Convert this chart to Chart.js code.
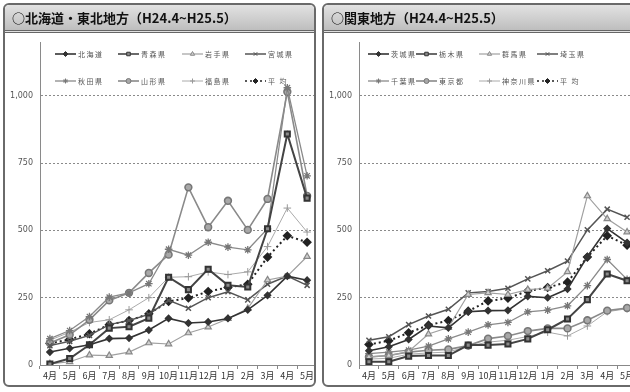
<!DOCTYPE html>
<html>
<head>
<meta charset="utf-8">
<script src="https://cdn.jsdelivr.net/npm/chart.js@4/dist/chart.umd.min.js"></script>
<style>
  html, body { margin: 0; padding: 0; background: #fff; overflow: hidden; width: 630px; height: 392px; }
  .panel { position: absolute; top: 3px; height: 380px; border: 2px solid #6a6a6a; border-radius: 6px; overflow: hidden; background: #fff; }
  .hdr { position: absolute; left: 0; top: 0; right: 0; height: 25px; border-bottom: 3px double #666; border-radius: 4px 4px 0 0;
         background: linear-gradient(#e2e2e2, #bebebe); font: bold 13px "Noto Sans CJK JP", sans-serif; line-height: 25px;
         padding-left: 7px; color: #111; z-index: 2; }
  canvas { position: absolute; left: 0; top: 0; }
</style>
</head>
<body>
<div class="panel" style="left:3px; width:309px;">
  <div class="hdr">○北海道・東北地方（H24.4~H25.5）</div>
  <canvas id="c1" width="322" height="380"></canvas>
</div>
<div class="panel" style="left:322px; width:330px;">
  <div class="hdr">○関東地方（H24.4~H25.5）</div>
  <canvas id="c2" width="330" height="380"></canvas>
</div>
<script>
// months H24.4 - H25.5
const months = ['4月','5月','6月','7月','8月','9月','10月','11月','12月','1月','2月','3月','4月','5月'];

// 北海道・東北
const tohokuNames = ['北海道','青森県','岩手県','宮城県','秋田県','山形県','福島県','平 均'];
const hokkaido  = [48, 62, 75, 98, 100, 130, 173, 156, 160, 173, 205, 259, 330, 315];
const aomori    = [4, 24, 75, 137, 142, 174, 326, 280, 356, 296, 290, 506, 858, 620];
const iwate     = [4, 12, 37, 35, 48, 82, 78, 119, 141, 172, 210, 316, 330, 403];
const miyagi    = [72, 88, 110, 150, 165, 188, 240, 211, 250, 272, 242, 300, 330, 296];
const akita     = [98, 128, 180, 252, 268, 302, 430, 408, 456, 438, 428, 506, 1030, 703];
const yamagata  = [82, 112, 168, 240, 268, 342, 410, 660, 512, 610, 502, 617, 1015, 628];
const fukushima = [92, 122, 158, 168, 205, 250, 326, 328, 346, 336, 346, 440, 583, 494];
const tohokuAvg = [80, 95, 116, 150, 165, 190, 236, 249, 273, 288, 300, 401, 480, 456];

// 関東
const kantoNames = ['茨城県','栃木県','群馬県','埼玉県','千葉県','東京都','神奈川県','平 均'];
const ibaraki   = [53, 68, 95, 145, 138, 198, 202, 203, 255, 250, 282, 403, 507, 455];
const tochigi   = [12, 12, 33, 35, 35, 74, 74, 78, 97, 131, 171, 243, 338, 313];
const gunma     = [30, 35, 50, 115, 139, 262, 268, 262, 280, 285, 346, 628, 543, 494];
const saitama   = [92, 105, 150, 182, 207, 268, 273, 285, 320, 350, 386, 502, 579, 549];
const chiba     = [42, 48, 55, 70, 97, 122, 149, 158, 197, 204, 220, 295, 392, 318];
const tokyo     = [30, 35, 48, 55, 58, 72, 98, 108, 126, 136, 136, 166, 202, 212];
const kanagawa  = [22, 25, 40, 45, 48, 70, 85, 92, 106, 122, 108, 145, 198, 209];
const kantoAvg  = [76, 90, 120, 148, 165, 200, 238, 248, 275, 288, 308, 401, 480, 445];

const yTicks = [0, 250, 500, 750, 1000];

const looks = [
  { borderColor: '#333', borderWidth: 1.6, pointStyle: 'rectRot', pointRadius: 3, pointBackgroundColor: '#333', pointBorderColor: '#333' },
  { borderColor: '#444', borderWidth: 2, pointStyle: 'rect', pointRadius: 3.6, pointBackgroundColor: '#8a8a8a', pointBorderColor: '#333' },
  { borderColor: '#a0a0a0', borderWidth: 1.2, pointStyle: 'triangle', pointRadius: 3.6, pointBackgroundColor: '#d0d0d0', pointBorderColor: '#888' },
  { borderColor: '#555', borderWidth: 1.5, pointStyle: 'crossRot', pointRadius: 3.6, pointBackgroundColor: '#555', pointBorderColor: '#555' },
  { borderColor: '#8a8a8a', borderWidth: 1.3, pointStyle: 'star', pointRadius: 3.8, pointBackgroundColor: '#777', pointBorderColor: '#777' },
  { borderColor: '#8a8a8a', borderWidth: 1.6, pointStyle: 'circle', pointRadius: 3.4, pointBackgroundColor: '#a8a8a8', pointBorderColor: '#777' },
  { borderColor: '#aaa', borderWidth: 1, pointStyle: 'cross', pointRadius: 3.8, pointBackgroundColor: '#999', pointBorderColor: '#999' },
  { borderColor: '#222', borderWidth: 2, borderDash: [2, 3], pointStyle: 'rectRot', pointRadius: 3.4, pointBackgroundColor: '#222', pointBorderColor: '#222' }
];

// legend drawn inside the plot area, two rows of four
const insideLegend = {
  id: 'insideLegend',
  afterDraw(chart, args, opts) {
    const ctx = chart.ctx;
    const area = chart.chartArea;
    ctx.save();
    ctx.font = '7px "Noto Sans CJK JP", sans-serif';
    ctx.textBaseline = 'middle';
    chart.data.datasets.forEach((ds, i) => {
      const x = area.left + opts.cols[i % 4];
      const y = area.top + opts.rows[Math.floor(i / 4)];
      ctx.strokeStyle = ds.borderColor;
      ctx.lineWidth = Math.min(ds.borderWidth, 1.6);
      ctx.setLineDash(ds.borderDash || []);
      ctx.beginPath();
      ctx.moveTo(x, y);
      ctx.lineTo(x + 21, y);
      ctx.stroke();
      ctx.setLineDash([]);
      ctx.fillStyle = ds.pointBackgroundColor;
      ctx.strokeStyle = ds.pointBorderColor;
      ctx.lineWidth = 1;
      Chart.helpers.drawPoint(ctx, { pointStyle: ds.pointStyle, radius: 2.5, rotation: 0, borderWidth: 1 }, x + 10.5, y);
      // spaced-out characters, as in the original
      ctx.fillStyle = '#555';
      let tx = x + 23;
      for (const ch of ds.label) {
        ctx.fillText(ch, tx, y);
        tx += ctx.measureText(ch).width + 1.5;
      }
    });
    ctx.restore();
  }
};

function makeChart(id, names, series, pad, cols) {
  new Chart(document.getElementById(id), {
    type: 'line',
    data: {
      labels: months,
      datasets: series.map((s, i) => Object.assign({ label: names[i], data: s, tension: 0, fill: false }, looks[i]))
    },
    options: {
      responsive: false,
      animation: false,
      devicePixelRatio: 1,
      layout: { padding: pad },
      plugins: {
        legend: { display: false },
        tooltip: { enabled: false },
        insideLegend: { cols: cols, rows: [12, 39] }
      },
      scales: {
        x: {
          offset: true,
          grid: { display: true, drawOnChartArea: false, offset: true, tickLength: 4, color: '#888' },
          border: { color: '#888' },
          ticks: { font: { family: '"Noto Sans CJK JP", sans-serif', size: 9 }, color: '#333', padding: 1, maxRotation: 0, autoSkip: false },
          afterFit(scale) { scale.height = 20; }
        },
        y: {
          min: 0,
          max: 1200,
          afterBuildTicks(scale) { scale.ticks = yTicks.map(v => ({ value: v })); },
          grid: { color: '#8a8a8a', drawTicks: false, lineWidth: 1 },
          border: { display: true, color: '#8a8a8a', dash: [2, 2] },
          ticks: {
            font: { family: '"DejaVu Sans", sans-serif', size: 8 }, color: '#555', padding: 7,
            callback: v => v.toLocaleString('en-US')
          },
          afterFit(scale) { scale.width = 35; }
        }
      }
    },
    plugins: [insideLegend]
  });
}

makeChart('c1', tohokuNames,
  [hokkaido, aomori, iwate, miyagi, akita, yamagata, fukushima, tohokuAvg],
  { left: 0, top: 37, right: 10, bottom: 0 },
  [15, 78, 142, 205]);

makeChart('c2', kantoNames,
  [ibaraki, tochigi, gunma, saitama, chiba, tokyo, kanagawa, kantoAvg],
  { left: 0, top: 37, right: 17, bottom: 0 },
  [9, 57, 120, 178]);
</script>
</body>
</html>
